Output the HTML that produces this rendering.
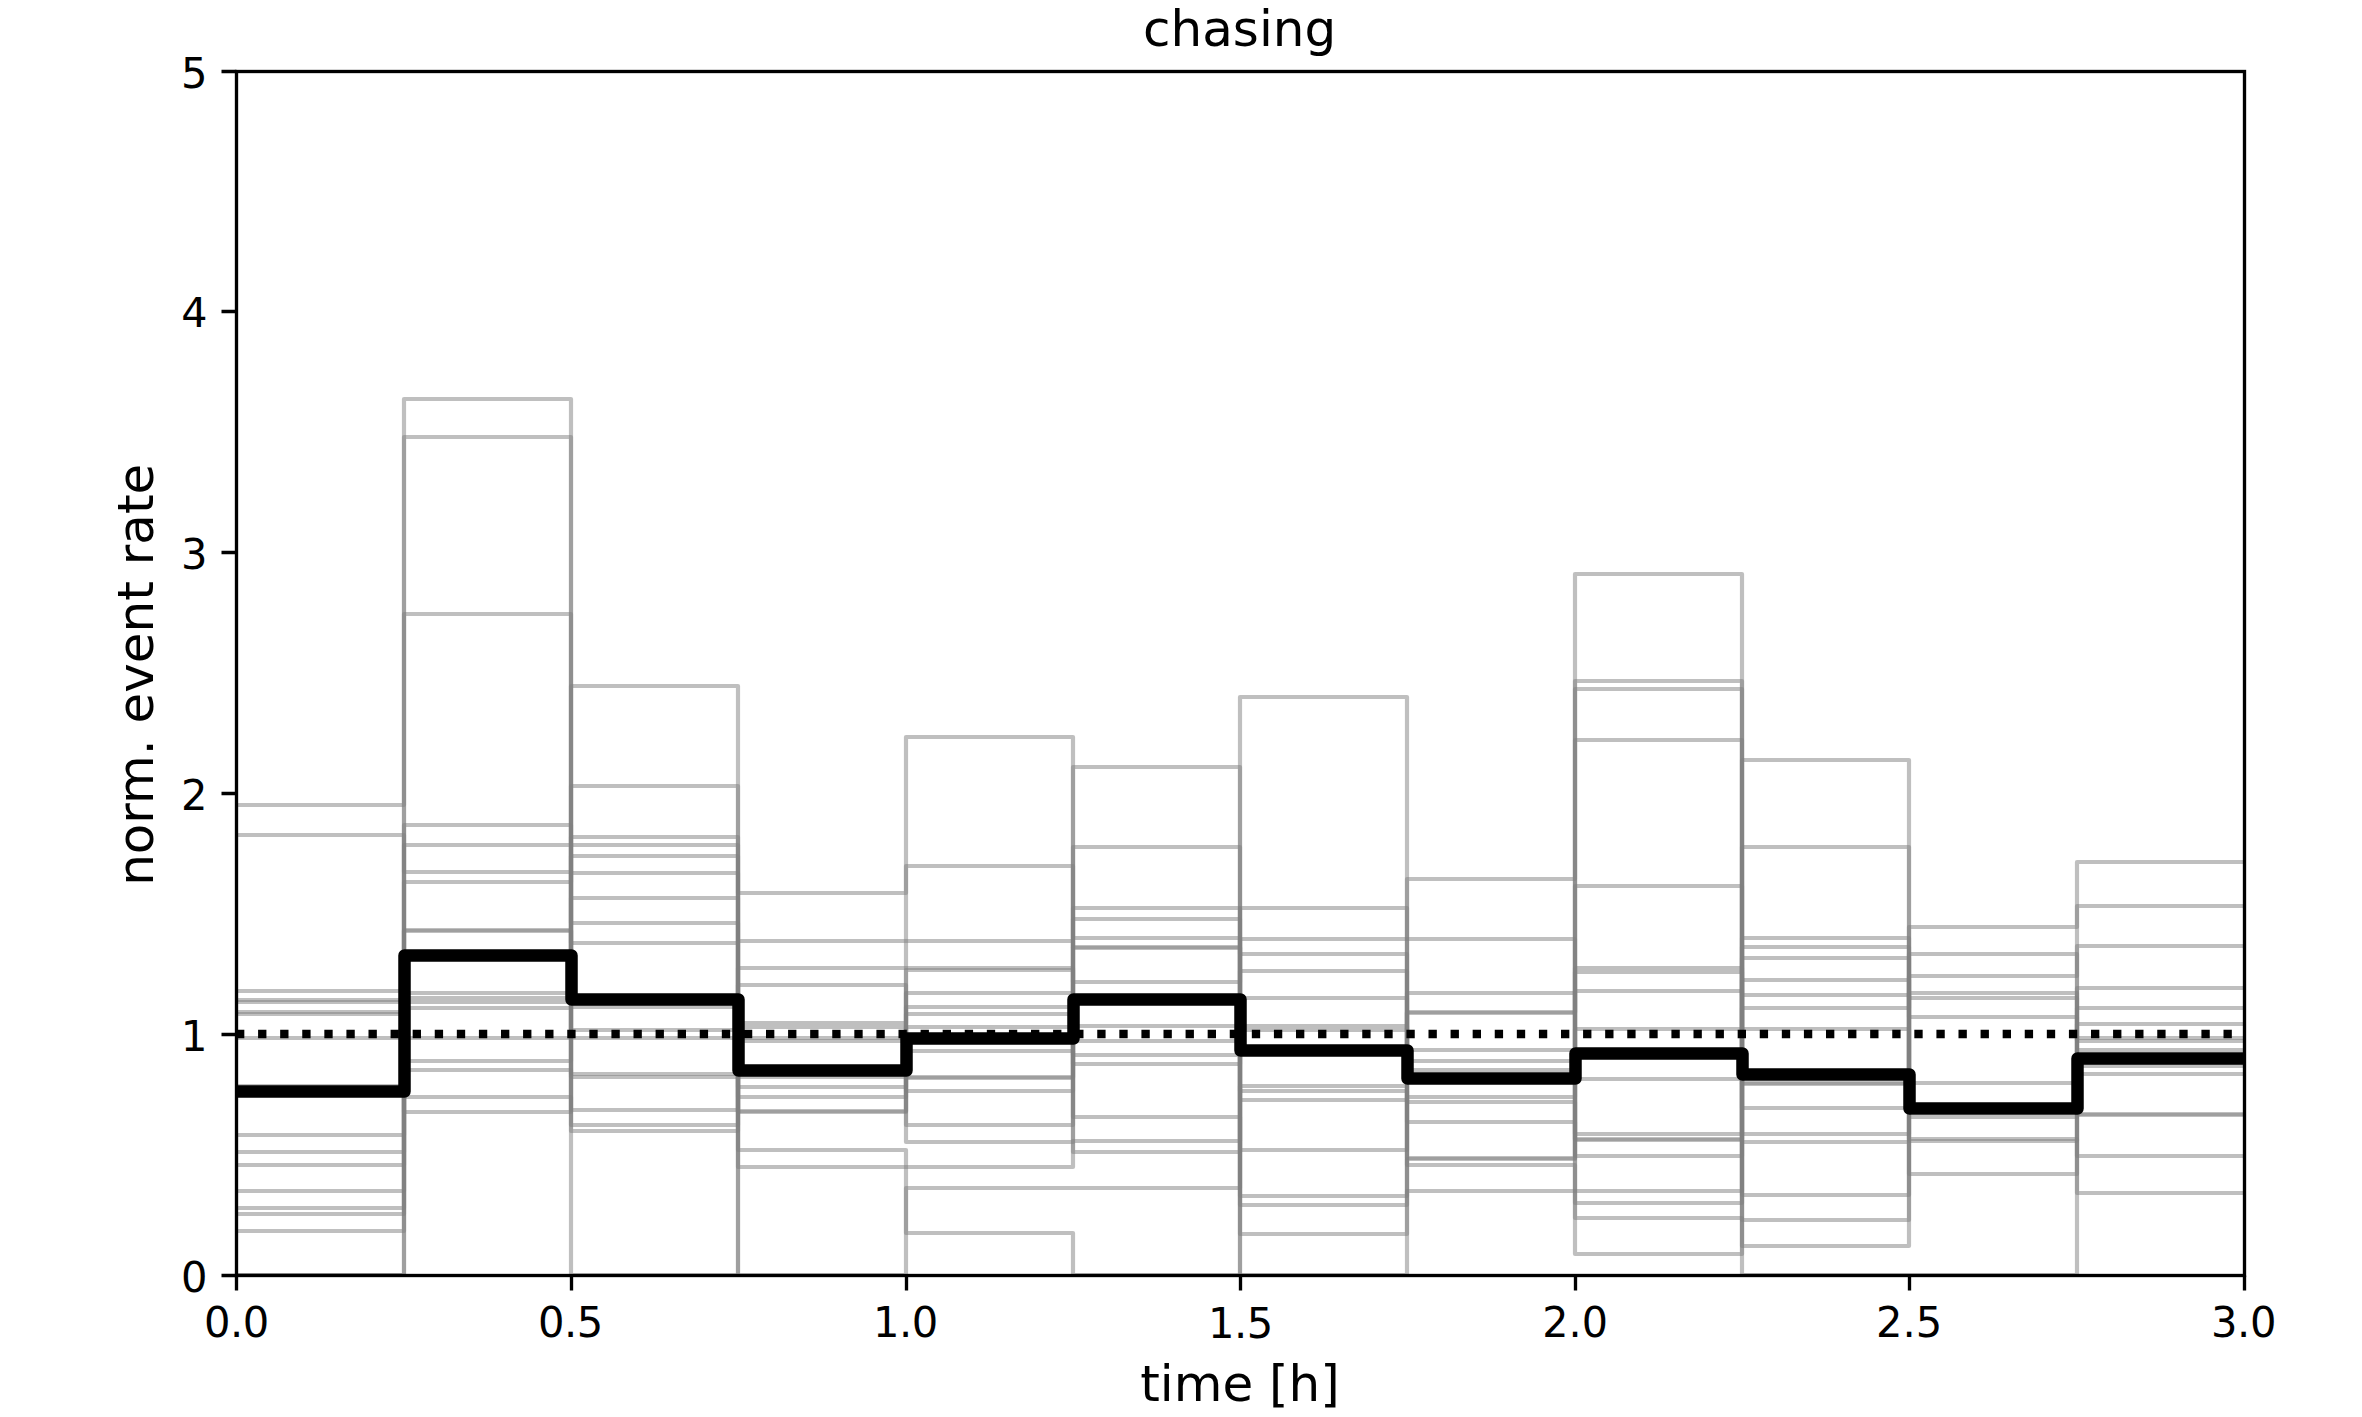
<!DOCTYPE html>
<html lang="en"><head><meta charset="utf-8"><title>chasing</title>
<style>html,body{margin:0;padding:0;background:#fff}svg{display:block}text{font-family:"DejaVu Sans","Liberation Sans",sans-serif;fill:#000}</style></head>
<body>
<svg width="2362" height="1417" viewBox="0 0 2362 1417">
<rect width="2362" height="1417" fill="#fff"/>
<defs><clipPath id="ax"><rect x="236.2205" y="70.54" width="2007.8740" height="1204.7300"/></clipPath></defs>
<g clip-path="url(#ax)" fill="none" stroke-linejoin="round">
<g stroke="#808080" stroke-opacity="0.5" stroke-width="4.1667" stroke-linecap="square">
<path d="M236 1275H404V882H571V686H738V1070.5H906V1051H1073V1064H1240V697H1407V1078.5H1575V1139H1742V847H1909V1108.5H2077V862H2244"/>
<path d="M236 1275H404V931H571V943H738V1112H906V993H1073V847H1240V1091H1407V1102H1575V1140H1742V947H1909V1017H2077V1038H2244"/>
<path d="M236 1214H404V825H571V1275H738V1027H906V1077H1073V767H1240V1205H1407V1070H1575V1203H1742V760H1909V998H2077V1058.5H2244"/>
<path d="M236 805H404V399H571V845H738V1275H906V1188H1073H1240V1030H1407V1012H1575V968H1742V1195H1909V976H2077V946H2244"/>
<path d="M236 1000H404V1112H571V856H738V1150H906V1233H1073V1275H1240V971H1407V1122H1575V1134H1742V938H1909V1108.5H2077V1114H2244"/>
<path d="M236 1002H404V1061H571V873H738V1087H906V1078H1073V919H1240V1275H1407V1159H1575V991H1742V1029H1909V1141H2077V1008H2244"/>
<path d="M236 1014H404V1097H571V1110H738V1070.5H906V1014H1073V1152H1240V998H1407V1165H1575V1218H1742V1275H1909H2077V988H2244"/>
<path d="M236 1038H404H571H738H906V1091H1073V908H1240V954H1407V1050H1575V1029H1742V1008H1909V954H2077V1193H2244"/>
<path d="M236 1191H404V614H571V923H738V1167H906H1073V999.5H1240V1050.5H1407V879H1575V574H1742V1108H1909V1083H2077V1024H2244"/>
<path d="M236 1165H404V1002H571V837H738V941H906H1073V948H1240V1196H1407V1013H1575V886H1742V1134H1909V1108.5H2077V1058.5H2244"/>
<path d="M236 1086H404V1008H571V1077H738V968H906H1073V1055H1240V1100H1407V993H1575V1254H1742V980H1909V1108.5H2077V1058.5H2244"/>
<path d="M236 1231H404V437H571V1007H738V985H906V1125H1073V1041H1240V939H1407H1575V1079H1742V958H1909V1108.5H2077V1115H2244"/>
<path d="M236 1012H404V993H571V898H738V1077H906V737H1073V938H1240V1234H1407V1191H1575H1742V1142H1909V1174H2077V1050H2244"/>
<path d="M236 1152H404V930H571V1074H738V1111H906V1027H1073V1026H1240H1407V1061H1575V972H1742V1220H1909V1117H2077V1066H2244"/>
<path d="M236 835H404V872H571V786H738V893H906V866H1073V982H1240V908H1407V1078.5H1575V740H1742V1084H1909V1108.5H2077V1074H2244"/>
<path d="M236 1208H404V1070H571V1131H738V1023H906V1007H1073V947H1240V1050.5H1407V1078.5H1575V1156H1742V1083H1909V927H2077V906H2244"/>
<path d="M236 1135H404V998H571V1125H738V1041H906V1142H1073V1141H1240V1086H1407V1158H1575V689H1742V995H1909V1139H2077V1156H2244"/>
<path d="M236 991H404V845H571V1030H738V1097H906V970H1073V1117H1240V1150H1407V1097H1575V681H1742V1246H1909V993H2077V1041H2244"/>
</g>
<path d="M236.5 1091.5H404.5V955.5H571.5V999.5H738.5V1070.5H906.5V1038.5H1073.5V999.5H1240.5V1050.5H1407.5V1078.5H1575.5V1053.5H1742.5V1074.5H1909.5V1108.5H2077.5V1058.5H2244.5" stroke="#000" stroke-width="12.5" stroke-linecap="square"/>
<path d="M236 1034H2250" stroke="#000" stroke-width="8.3333" stroke-dasharray="8.3333 13.75"/>
</g>
<rect x="236.5" y="71.5" width="2008" height="1204" fill="none" stroke="#000" stroke-width="3.3333"/>
<path d="M236.5 1275.5V1290.5M571.5 1275.5V1290.5M906.5 1275.5V1290.5M1240.5 1275.5V1290.5M1575.5 1275.5V1290.5M1909.5 1275.5V1290.5M2244.5 1275.5V1290.5M236.5 71.5H221.5M236.5 311.5H221.5M236.5 552.5H221.5M236.5 793.5H221.5M236.5 1034.5H221.5M236.5 1275.5H221.5" stroke="#000" stroke-width="3.3333" fill="none"/>
<text font-size="41.667px" text-anchor="middle" letter-spacing="-0.5" transform="translate(236.30,1336.50) scale(1,1.02)">0.0</text>
<text font-size="41.667px" text-anchor="middle" letter-spacing="-0.5" transform="translate(570.30,1336.50) scale(1,1.02)">0.5</text>
<text font-size="41.667px" text-anchor="middle" letter-spacing="-0.5" transform="translate(905.30,1336.50) scale(1,1.02)">1.0</text>
<text font-size="41.667px" text-anchor="middle" letter-spacing="-0.5" transform="translate(1240.30,1337.50) scale(1,1.02)">1.5</text>
<text font-size="41.667px" text-anchor="middle" transform="translate(1575.10,1336.50) scale(0.99,1.03)">2.0</text>
<text font-size="41.667px" text-anchor="middle" letter-spacing="-0.1" transform="translate(1909.10,1336.50) scale(1,1.02)">2.5</text>
<text font-size="41.667px" text-anchor="middle" letter-spacing="-0.4" transform="translate(2243.50,1336.50) scale(1,1.03)">3.0</text>
<text font-size="41.667px" text-anchor="end" transform="translate(207.55,87.80) scale(1,1.02)">5</text>
<text font-size="41.667px" text-anchor="end" transform="translate(207.55,327.30) scale(0.99,1)">4</text>
<text font-size="41.667px" text-anchor="end" transform="translate(207.55,568.80) scale(1,1.03)">3</text>
<text font-size="41.667px" text-anchor="end" transform="translate(207.55,809.80) scale(1,1.03)">2</text>
<text font-size="41.667px" text-anchor="end" transform="translate(207.55,1050.80) scale(1.01,1.03)">1</text>
<text font-size="41.667px" text-anchor="end" transform="translate(207.55,1291.80) scale(1,1.02)">0</text>
<text font-size="50px" text-anchor="middle" transform="translate(1239.60,45.50) scale(1,0.98)">chasing</text>
<text font-size="50px" text-anchor="middle" transform="translate(1240.00,1401.05)">time [h]</text>
<text font-size="50px" text-anchor="middle" dx="0 -0.25" transform="translate(153.00,674.70) rotate(-90)">norm. event rate</text>
</svg>
</body></html>
